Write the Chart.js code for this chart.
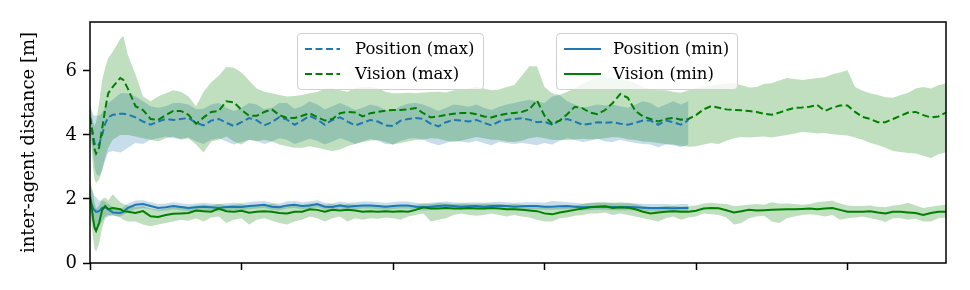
<!DOCTYPE html>
<html lang="en">
<head>
  <meta charset="UTF-8">
  <title>Inter-agent distance</title>
  <style>
    body { margin: 0; background: white; }
    .wrap { position: relative; width: 970px; height: 290px; }
    .legend { position: absolute; top: 33px; height: 55px; border: 1px solid #d0d0d0; border-radius: 4px; background: rgba(255,255,255,0.8); }
    .legend svg { position: absolute; left: 0; top: 0; }
    .legend span { position: absolute; font-family: "DejaVu Serif", serif; font-size: 16.5px; line-height: 20px; color: #000; white-space: nowrap; }
  </style>
</head>
<body>
  <div class="wrap">
    <canvas id="chart" width="970" height="290"></canvas>
    <div class="legend" style="left:297px; width:185px;">
      <svg width="60" height="55">
        <line x1="7" y1="15" x2="42" y2="15" stroke="#1f77b4" stroke-width="2" stroke-dasharray="7,3.5"/>
        <line x1="7" y1="40" x2="42" y2="40" stroke="#008000" stroke-width="2" stroke-dasharray="7,3.5"/>
      </svg>
      <span style="left:57px; top:5px;">Position (max)</span>
      <span style="left:57px; top:30px;">Vision (max)</span>
    </div>
    <div class="legend" style="left:556px; width:180px;">
      <svg width="60" height="55">
        <line x1="7" y1="15" x2="44" y2="15" stroke="#1f77b4" stroke-width="2"/>
        <line x1="7" y1="40" x2="44" y2="40" stroke="#008000" stroke-width="2"/>
      </svg>
      <span style="left:56px; top:5px;">Position (min)</span>
      <span style="left:56px; top:30px;">Vision (min)</span>
    </div>
  </div>

  <script src="https://cdn.jsdelivr.net/npm/chart.js"></script>
  <script>
    // time steps (x), finer at the start where the curves dip
    const steps = [0,1,2,3,4,6,8,10,12,15,20,22,
      25,30,35,40,45,50,55,60,65,70,
      75,80,85,90,95,100,105,110,115,120,
      125,130,135,140,145,150,155,160,165,170,
      175,180,185,190,195,200,205,210,215,220,
      225,230,235,240,245,250,255,260,265,270,
      275,280,285,290,295,300,305,310,315,320,
      325,330,335,340,345,350,355,360,365,370,
      375,380,385,390,395,400,405,410,415,420,
      425,430,435,440,445,450,455,460,465,470,
      475,480,485,490,495,500,505,510,515,520,
      525,530,535,540,545,550,555,560,565];

    // Vision (max): mean and band
    const visionMax = [4.55,4.3,3.9,3.55,3.42,3.6,4.2,4.8,5.3,5.5,5.78,5.72,
      5.45,4.9,4.78,4.5,4.47,4.62,4.75,4.75,4.63,4.35,
      4.55,4.72,4.75,5.05,5.02,4.78,4.6,4.6,4.72,4.8,
      4.62,4.53,4.53,4.6,4.68,4.56,4.45,4.5,4.68,4.72,
      4.7,4.58,4.68,4.72,4.76,4.78,4.78,4.8,4.84,4.68,
      4.55,4.58,4.63,4.66,4.69,4.69,4.65,4.58,4.55,4.62,
      4.66,4.69,4.72,4.8,5.08,4.6,4.35,4.45,4.65,4.88,
      4.84,4.7,4.65,4.78,5.0,5.28,5.16,4.75,4.58,4.5,
      4.42,4.5,4.53,4.48,4.5,4.62,4.8,4.9,4.85,4.8,
      4.78,4.77,4.75,4.72,4.66,4.63,4.7,4.78,4.85,4.86,
      4.88,4.94,4.75,4.85,4.92,4.92,4.72,4.56,4.5,4.4,
      4.4,4.5,4.6,4.7,4.72,4.62,4.55,4.58,4.7];
    const visionMaxHi = [5.0,4.7,4.4,4.3,4.4,5.0,5.7,6.1,6.4,6.6,7.0,7.1,
      6.5,5.9,5.2,5.05,5.2,5.3,5.4,5.35,5.2,4.9,
      5.35,5.65,5.85,6.13,6.1,5.95,5.7,5.45,5.35,5.3,
      5.25,5.2,5.22,5.25,5.3,5.34,5.45,5.47,5.4,5.35,
      5.47,5.5,5.5,5.47,5.35,5.3,5.3,5.32,5.3,5.33,
      5.34,5.35,5.33,5.4,5.42,5.45,5.5,5.45,5.4,5.42,
      5.5,5.56,5.85,6.15,6.15,5.5,5.3,5.25,5.35,5.45,
      5.6,5.7,5.8,5.8,5.78,5.72,5.7,5.62,5.5,5.42,
      5.4,5.4,5.35,5.32,5.4,5.47,5.5,5.55,5.58,5.6,
      5.62,5.55,5.48,5.5,5.6,5.62,5.7,5.78,5.75,5.72,
      5.75,5.78,5.8,5.9,5.95,6.02,5.5,5.38,5.3,5.25,
      5.18,5.16,5.25,5.32,5.45,5.5,5.45,5.55,5.62];
    const visionMaxLo = [4.0,3.6,3.0,2.6,2.5,2.6,2.9,3.3,3.6,3.85,4.0,4.0,
      4.0,3.95,3.9,3.85,3.8,3.9,3.95,3.85,3.9,3.7,
      3.45,3.8,3.85,3.95,3.8,3.7,3.85,3.8,3.85,3.8,
      3.7,3.65,3.6,3.6,3.65,3.6,3.55,3.5,3.55,3.65,
      3.72,3.78,3.82,3.84,3.78,3.7,3.75,3.8,3.84,3.86,
      3.9,3.88,3.82,3.78,3.82,3.88,3.94,3.9,3.85,3.84,
      3.8,3.78,3.82,3.9,3.94,3.9,3.85,3.84,3.84,3.86,
      3.88,3.87,3.87,3.9,3.94,3.92,3.87,3.84,3.8,3.78,
      3.75,3.72,3.7,3.66,3.63,3.65,3.7,3.75,3.72,3.82,
      3.9,3.94,3.92,3.94,3.95,3.92,3.96,4.0,4.05,4.09,
      4.08,4.05,4.06,4.02,4.0,3.98,3.92,3.85,3.75,3.69,
      3.6,3.5,3.47,3.44,3.42,3.35,3.28,3.4,3.46];

    // Position (max): only recorded up to step 395
    const positionMax = [4.55,4.3,4.0,3.75,3.65,3.7,4.0,4.35,4.55,4.63,4.66,4.66,
      4.64,4.55,4.42,4.32,4.42,4.5,4.47,4.5,4.53,4.38,
      4.3,4.45,4.5,4.38,4.28,4.4,4.53,4.46,4.3,4.4,
      4.56,4.48,4.32,4.45,4.6,4.48,4.32,4.47,4.55,4.42,
      4.3,4.38,4.47,4.42,4.3,4.28,4.45,4.5,4.53,4.5,
      4.35,4.27,4.4,4.47,4.45,4.42,4.47,4.38,4.3,4.42,
      4.47,4.5,4.52,4.48,4.4,4.42,4.32,4.45,4.5,4.42,
      4.32,4.35,4.4,4.38,4.4,4.35,4.32,4.38,4.45,4.45,
      4.32,4.45,4.4,4.32,4.46];
    const positionMaxHi = [4.9,4.8,4.65,4.6,4.6,4.6,4.7,4.85,5.0,5.1,5.3,5.3,
      5.3,5.2,5.05,4.9,4.85,4.9,5.0,5.0,4.95,4.8,
      4.82,4.95,5.0,4.85,4.75,4.85,5.0,4.95,4.8,4.85,
      5.0,5.0,4.82,4.9,5.05,4.95,4.8,4.9,5.0,4.9,
      4.78,4.85,4.95,4.9,4.78,4.75,4.9,4.98,5.0,4.95,
      4.85,4.75,4.85,4.95,4.92,4.88,4.95,4.85,4.78,4.88,
      4.95,5.0,5.05,5.1,5.05,5.0,5.2,5.25,5.05,4.95,
      4.85,4.9,4.95,4.92,4.95,4.9,4.85,4.95,5.05,5.0,
      4.85,4.95,5.05,4.95,5.05];
    const positionMaxLo = [4.2,3.8,3.4,3.0,2.8,2.7,2.9,3.2,3.45,3.5,3.45,3.5,
      3.6,3.75,3.72,3.85,3.9,3.95,3.9,3.88,3.92,3.8,
      3.72,3.85,3.9,3.8,3.7,3.78,3.85,3.82,3.72,3.8,
      3.9,3.85,3.72,3.8,3.88,3.82,3.7,3.8,3.9,3.82,
      3.72,3.8,3.88,3.82,3.72,3.7,3.82,3.88,3.9,3.85,
      3.75,3.68,3.75,3.82,3.8,3.76,3.82,3.74,3.68,3.78,
      3.75,3.72,3.75,3.72,3.68,3.75,3.7,3.82,3.9,3.85,
      3.78,3.82,3.88,3.8,3.78,3.85,3.8,3.75,3.72,3.7,
      3.62,3.7,3.68,3.62,3.7];

    // Vision (min)
    const visionMin = [2.1,1.8,1.4,1.1,1.0,1.25,1.65,1.78,1.68,1.72,1.68,1.62,
      1.6,1.56,1.62,1.46,1.44,1.5,1.54,1.55,1.56,1.64,
      1.62,1.6,1.7,1.62,1.6,1.63,1.57,1.6,1.62,1.6,
      1.56,1.55,1.6,1.6,1.68,1.66,1.6,1.66,1.64,1.66,
      1.64,1.6,1.62,1.6,1.62,1.6,1.62,1.6,1.66,1.74,
      1.7,1.7,1.72,1.7,1.7,1.72,1.7,1.7,1.72,1.7,
      1.68,1.68,1.66,1.64,1.62,1.55,1.52,1.58,1.62,1.66,
      1.7,1.74,1.76,1.77,1.72,1.74,1.73,1.68,1.6,1.55,
      1.58,1.6,1.62,1.6,1.6,1.63,1.7,1.72,1.71,1.65,
      1.58,1.62,1.66,1.64,1.65,1.66,1.67,1.68,1.68,1.69,
      1.7,1.68,1.7,1.72,1.66,1.6,1.6,1.6,1.62,1.58,
      1.55,1.6,1.6,1.58,1.56,1.5,1.56,1.6,1.6];
    const visionMinHi = [2.5,2.4,2.2,1.9,1.7,1.8,2.0,2.05,1.95,2.15,1.9,1.85,
      1.8,1.75,1.78,1.7,1.66,1.7,1.75,1.78,1.75,1.8,
      1.82,1.8,1.85,1.8,1.82,1.84,1.78,1.82,1.8,1.85,
      1.8,1.78,1.82,1.8,1.86,1.84,1.82,1.84,1.8,1.84,
      1.82,1.8,1.82,1.8,1.8,1.78,1.8,1.78,1.82,1.86,
      1.84,1.88,1.86,1.84,1.86,1.85,1.84,1.86,1.85,1.84,
      1.82,1.84,1.82,1.8,1.8,1.75,1.72,1.74,1.78,1.8,
      1.84,1.88,1.9,1.9,1.88,1.9,1.88,1.84,1.78,1.74,
      1.75,1.78,1.78,1.76,1.78,1.8,1.86,1.88,1.86,1.84,
      1.78,1.8,1.82,1.84,1.82,1.9,1.85,1.86,1.84,1.82,
      1.84,1.9,1.92,1.95,1.86,1.8,1.78,1.78,1.8,1.76,
      1.74,1.8,1.82,1.88,1.8,1.72,1.76,1.8,1.82];
    const visionMinLo = [1.7,1.2,0.8,0.45,0.35,0.6,1.1,1.4,1.45,1.5,1.42,1.35,
      1.3,1.3,1.2,1.15,1.2,1.25,1.3,1.35,1.32,1.4,
      1.3,1.42,1.45,1.25,1.35,1.4,1.2,1.35,1.4,1.32,
      1.25,1.2,1.3,1.35,1.45,1.4,1.3,1.4,1.45,1.3,
      1.4,1.35,1.4,1.38,1.42,1.4,1.35,1.45,1.5,1.55,
      1.3,1.35,1.4,1.5,1.55,1.5,1.48,1.5,1.55,1.5,
      1.45,1.5,1.45,1.42,1.35,1.3,1.3,1.4,1.42,1.48,
      1.5,1.55,1.55,1.58,1.5,1.55,1.5,1.45,1.4,1.35,
      1.3,1.4,1.45,1.35,1.42,1.45,1.55,1.52,1.5,1.42,
      1.2,1.25,1.4,1.45,1.48,1.3,1.25,1.4,1.45,1.5,
      1.52,1.5,1.45,1.5,1.35,1.4,1.42,1.45,1.4,1.35,
      1.28,1.4,1.4,1.35,1.38,1.3,1.3,1.4,1.42];

    // Position (min)
    const positionMin = [2.0,1.85,1.72,1.65,1.6,1.62,1.72,1.74,1.68,1.58,1.56,1.6,
      1.72,1.82,1.84,1.78,1.72,1.74,1.78,1.75,1.72,1.74,
      1.76,1.74,1.72,1.75,1.76,1.75,1.78,1.8,1.82,1.76,
      1.74,1.8,1.82,1.78,1.8,1.84,1.76,1.75,1.8,1.76,
      1.78,1.8,1.8,1.78,1.76,1.78,1.8,1.8,1.76,1.74,
      1.76,1.78,1.8,1.78,1.76,1.77,1.78,1.76,1.78,1.79,
      1.78,1.76,1.77,1.78,1.78,1.76,1.76,1.77,1.78,1.76,
      1.74,1.75,1.76,1.76,1.75,1.74,1.75,1.74,1.73,1.72,
      1.72,1.72,1.71,1.72,1.72];
    const positionMinHi = [2.4,2.3,2.2,2.1,2.05,1.95,1.95,1.92,1.85,1.75,1.7,1.74,
      1.86,1.95,1.96,1.9,1.84,1.86,1.9,1.87,1.84,1.86,
      1.88,1.86,1.84,1.87,1.88,1.87,1.9,1.92,1.94,1.88,
      1.86,1.92,1.94,1.9,1.92,1.96,1.88,1.87,1.92,1.88,
      1.9,1.92,1.92,1.9,1.88,1.9,1.92,1.92,1.88,1.86,
      1.88,1.9,1.92,1.9,1.88,1.89,1.9,1.88,1.9,1.91,
      1.9,1.88,1.89,1.9,1.9,1.88,1.94,1.92,1.9,1.88,
      1.86,1.87,1.88,1.88,1.87,1.86,1.87,1.86,1.85,1.84,
      1.84,1.84,1.83,1.84,1.84];
    const positionMinLo = [1.7,1.4,1.2,1.1,1.05,1.15,1.3,1.45,1.5,1.48,1.45,1.5,
      1.6,1.68,1.72,1.68,1.62,1.64,1.68,1.65,1.62,1.64,
      1.66,1.64,1.62,1.65,1.66,1.65,1.68,1.7,1.72,1.66,
      1.64,1.7,1.72,1.68,1.7,1.74,1.66,1.65,1.7,1.66,
      1.68,1.7,1.7,1.68,1.66,1.68,1.7,1.7,1.66,1.64,
      1.66,1.68,1.7,1.68,1.66,1.67,1.68,1.66,1.68,1.69,
      1.68,1.66,1.67,1.68,1.68,1.66,1.66,1.67,1.68,1.66,
      1.64,1.65,1.66,1.66,1.65,1.64,1.65,1.64,1.63,1.62,
      1.62,1.62,1.61,1.62,1.62];

    const yTicks = [0, 2, 4, 6];
    const xTicks = [0, 100, 200, 300, 400, 500];

    const BLUE = '#1f77b4';
    const GREEN = '#008000';
    const BLUE_FILL = 'rgba(31,119,180,0.25)';
    const GREEN_FILL = 'rgba(0,128,0,0.25)';
    const DASH = [7, 3.5];

    function pts(ys) {
      return ys.map((y, i) => ({ x: steps[i], y: y }));
    }

    function lineSet(ys, color, dashed) {
      return {
        data: pts(ys), borderColor: color, borderWidth: 2, borderDash: dashed ? DASH : [],
        pointRadius: 0, tension: 0, fill: false
      };
    }

    function bandSet(ys, fillColor, target) {
      return {
        data: pts(ys), borderWidth: 0, borderColor: 'rgba(0,0,0,0)', pointRadius: 0, tension: 0,
        backgroundColor: fillColor, fill: target === null ? false : { target: target }
      };
    }

    // dataset 0 is drawn on top in Chart.js, so lines come first
    const datasets = [
      lineSet(visionMin, GREEN, false),
      lineSet(positionMin, BLUE, false),
      lineSet(visionMax, GREEN, true),
      lineSet(positionMax, BLUE, true),
      bandSet(visionMinHi, GREEN_FILL, 5),
      bandSet(visionMinLo, GREEN_FILL, null),
      bandSet(positionMinHi, BLUE_FILL, 7),
      bandSet(positionMinLo, BLUE_FILL, null),
      bandSet(visionMaxHi, GREEN_FILL, 9),
      bandSet(visionMaxLo, GREEN_FILL, null),
      bandSet(positionMaxHi, BLUE_FILL, 11),
      bandSet(positionMaxLo, BLUE_FILL, null)
    ];

    const frame = {
      id: 'frame',
      afterDatasetsDraw(chart) {
        const a = chart.chartArea;
        const ctx = chart.ctx;
        ctx.save();
        ctx.strokeStyle = '#000';
        ctx.lineWidth = 1.5;
        ctx.strokeRect(a.left, a.top, a.right - a.left, a.bottom - a.top);
        ctx.restore();
      }
    };

    const font = { family: '"DejaVu Serif", serif', size: 18 };

    new Chart(document.getElementById('chart'), {
      type: 'line',
      data: { datasets: datasets },
      plugins: [frame],
      options: {
        responsive: false,
        animation: false,
        devicePixelRatio: 1,
        layout: { padding: { top: 22, right: 24, left: 0, bottom: 0 } },
        plugins: { legend: { display: false }, tooltip: { enabled: false } },
        scales: {
          x: {
            type: 'linear', min: 0, max: 565,
            afterBuildTicks: s => { s.ticks = xTicks.map(v => ({ value: v })); },
            ticks: { callback: () => '', includeBounds: false },
            grid: { drawOnChartArea: false, tickLength: 7, tickColor: '#000', tickWidth: 1.5 },
            border: { display: false },
            afterFit: s => { s.height = 27; }
          },
          y: {
            min: 0, max: 7.53,
            afterBuildTicks: s => { s.ticks = yTicks.map(v => ({ value: v })); },
            ticks: { color: '#000', font: font, padding: 6, includeBounds: false },
            grid: { drawOnChartArea: false, tickLength: 7, tickColor: '#000', tickWidth: 1.5 },
            border: { display: false },
            title: { display: true, text: 'inter-agent distance [m]', color: '#000', font: font, padding: { top: 19, bottom: 0 } },
            afterFit: s => { s.width = 90; }
          }
        }
      }
    });
  </script>
</body>
</html>
